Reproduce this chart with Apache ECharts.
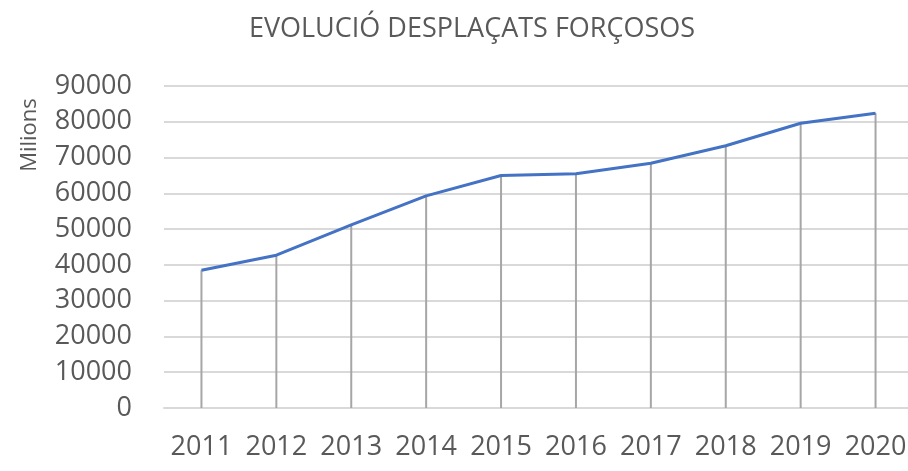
<!DOCTYPE html>
<html>
<head>
<meta charset="utf-8">
<title>Evolució desplaçats forçosos</title>
<script src="https://cdn.jsdelivr.net/npm/echarts@6/dist/echarts.min.js"></script>
<style>
  html, body {
    margin: 0;
    padding: 0;
    background: #fff;
    overflow: hidden;
  }
  /* una mica més ample que la finestra: l'àrea del gràfic es talla a la dreta */
  #chart {
    width: 914px;
    height: 471px;
  }
</style>
</head>
<body>
<div id="chart"></div>
<script>
// dades llegides del gràfic
const years = ['2011', '2012', '2013', '2014', '2015', '2016', '2017', '2018', '2019', '2020']
const displaced = [38500, 42700, 51200, 59300, 65000, 65500, 68400, 73300, 79600, 82400]
const yTicks = [0, 10000, 20000, 30000, 40000, 50000, 60000, 70000, 80000, 90000]

const chart = echarts.init(document.getElementById('chart'))

const option = {
  backgroundColor: '#fff',
  animation: false,
  title: {
    text: 'EVOLUCIÓ DESPLAÇATS FORÇOSOS',
    left: 467,
    top: 11,
    textAlign: 'center',
    textStyle: {
      fontFamily: 'Open Sans',
      fontSize: 27,
      fontWeight: 'normal',
      color: '#595959'
    }
  },
  // etiqueta de l'eix vertical
  graphic: [{
    type: 'text',
    x: 30,
    y: 135,
    rotation: Math.PI / 2,
    style: {
      text: 'Milions',
      fontFamily: 'Open Sans',
      fontSize: 22,
      fill: '#595959',
      align: 'center',
      verticalAlign: 'middle'
    }
  }],
  grid: {
    left: 164,
    top: 86,
    width: 749,
    height: 322,
    containLabel: false
  },
  xAxis: {
    type: 'category',
    data: years,
    boundaryGap: true,
    axisLine: { lineStyle: { color: '#d9d9d9', width: 2 } },
    axisTick: { show: false },
    axisLabel: {
      margin: 26,
      fontFamily: 'Open Sans',
      fontSize: 27,
      color: '#595959',
      interval: 0
    }
  },
  yAxis: {
    type: 'value',
    min: yTicks[0],
    max: yTicks[yTicks.length - 1],
    interval: yTicks[1] - yTicks[0],
    axisLine: { show: false },
    axisTick: { show: false },
    axisLabel: {
      margin: 32,
      fontFamily: 'Open Sans',
      fontSize: 27,
      color: '#595959',
      formatter: v => String(v)
    },
    splitLine: { lineStyle: { color: '#d9d9d9', width: 2 } }
  },
  series: [
    {
      // línies de caiguda
      type: 'bar',
      data: displaced,
      barWidth: 2,
      silent: true,
      itemStyle: { color: '#a6a6a6' }
    },
    {
      type: 'line',
      data: displaced,
      symbol: 'none',
      z: 5,
      lineStyle: { color: '#4472c4', width: 3 }
    }
  ]
}

chart.setOption(option)
</script>
</body>
</html>
